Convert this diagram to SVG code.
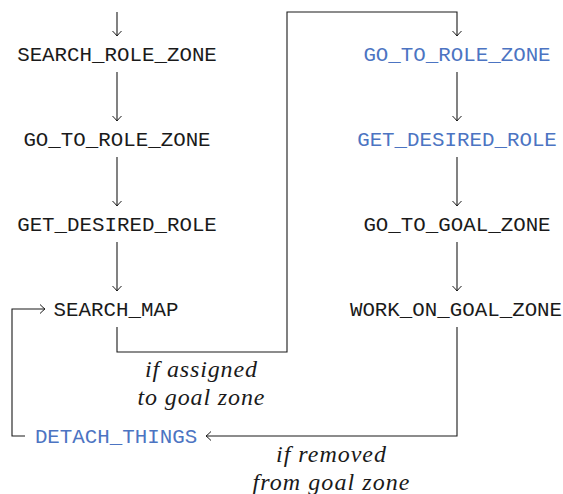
<svg xmlns="http://www.w3.org/2000/svg" width="563" height="494" viewBox="0 0 563 494">
<defs>
<marker id="arr" markerUnits="userSpaceOnUse" markerWidth="12" markerHeight="12" viewBox="-6 -6 12 12" refX="0" refY="0" orient="auto">
<path d="M -5 -4.5 Q -1.5 -1 0 0 Q -1.5 1 -5 4.5" fill="none" stroke="#1a1a1a" stroke-width="1"/>
</marker>
<style>
.n{font-family:"Liberation Mono","DejaVu Sans Mono",monospace;font-size:20.8px;fill:#1a1a1a;text-anchor:middle}
.b{fill:#4c74c2}
.l{font-family:"Liberation Serif","DejaVu Serif",serif;font-style:italic;font-size:24px;fill:#1a1a1a;text-anchor:middle}
.c{fill:none;stroke:#1a1a1a;stroke-width:1.1}
</style>
</defs>
<rect width="563" height="494" fill="#ffffff"/>
<g id="connectors">
<path class="c" d="M117 12 V36" marker-end="url(#arr)"/>
<path class="c" d="M117 72 V121" marker-end="url(#arr)"/>
<path class="c" d="M117 157 V206" marker-end="url(#arr)"/>
<path class="c" d="M117 242 V291" marker-end="url(#arr)"/>
<path class="c" d="M117 327 V352 H287 V12 H457 V36" marker-end="url(#arr)"/>
<path class="c" d="M457 72 V121" marker-end="url(#arr)"/>
<path class="c" d="M457 157 V206" marker-end="url(#arr)"/>
<path class="c" d="M457 242 V291" marker-end="url(#arr)"/>
<path class="c" d="M457 327 V436 H206" marker-end="url(#arr)"/>
<path class="c" d="M25 436 H12 V309 H45" marker-end="url(#arr)"/>
<text class="l" x="201" y="377" textLength="112" lengthAdjust="spacing">if assigned</text>
<text class="l" x="201" y="405" textLength="127" lengthAdjust="spacing">to goal zone</text>
<text class="l" x="331" y="462" textLength="110" lengthAdjust="spacing">if removed</text>
<text class="l" x="331" y="490" textLength="157" lengthAdjust="spacing">from goal zone</text>
</g>
<g id="search_role_zone"><text class="n" x="117" y="61">SEARCH_ROLE_ZONE</text></g>
<g id="go_to_role_zone_1"><text class="n" x="117" y="146">GO_TO_ROLE_ZONE</text></g>
<g id="get_desired_role_1"><text class="n" x="117" y="231">GET_DESIRED_ROLE</text></g>
<g id="search_map"><text class="n" x="116" y="316">SEARCH_MAP</text></g>
<g id="detach_things"><text class="n b" x="116" y="443">DETACH_THINGS</text></g>
<g id="go_to_role_zone_2"><text class="n b" x="457" y="61">GO_TO_ROLE_ZONE</text></g>
<g id="get_desired_role_2"><text class="n b" x="457" y="146">GET_DESIRED_ROLE</text></g>
<g id="go_to_goal_zone"><text class="n" x="457" y="231">GO_TO_GOAL_ZONE</text></g>
<g id="work_on_goal_zone"><text class="n" x="456" y="316">WORK_ON_GOAL_ZONE</text></g>
</svg>
